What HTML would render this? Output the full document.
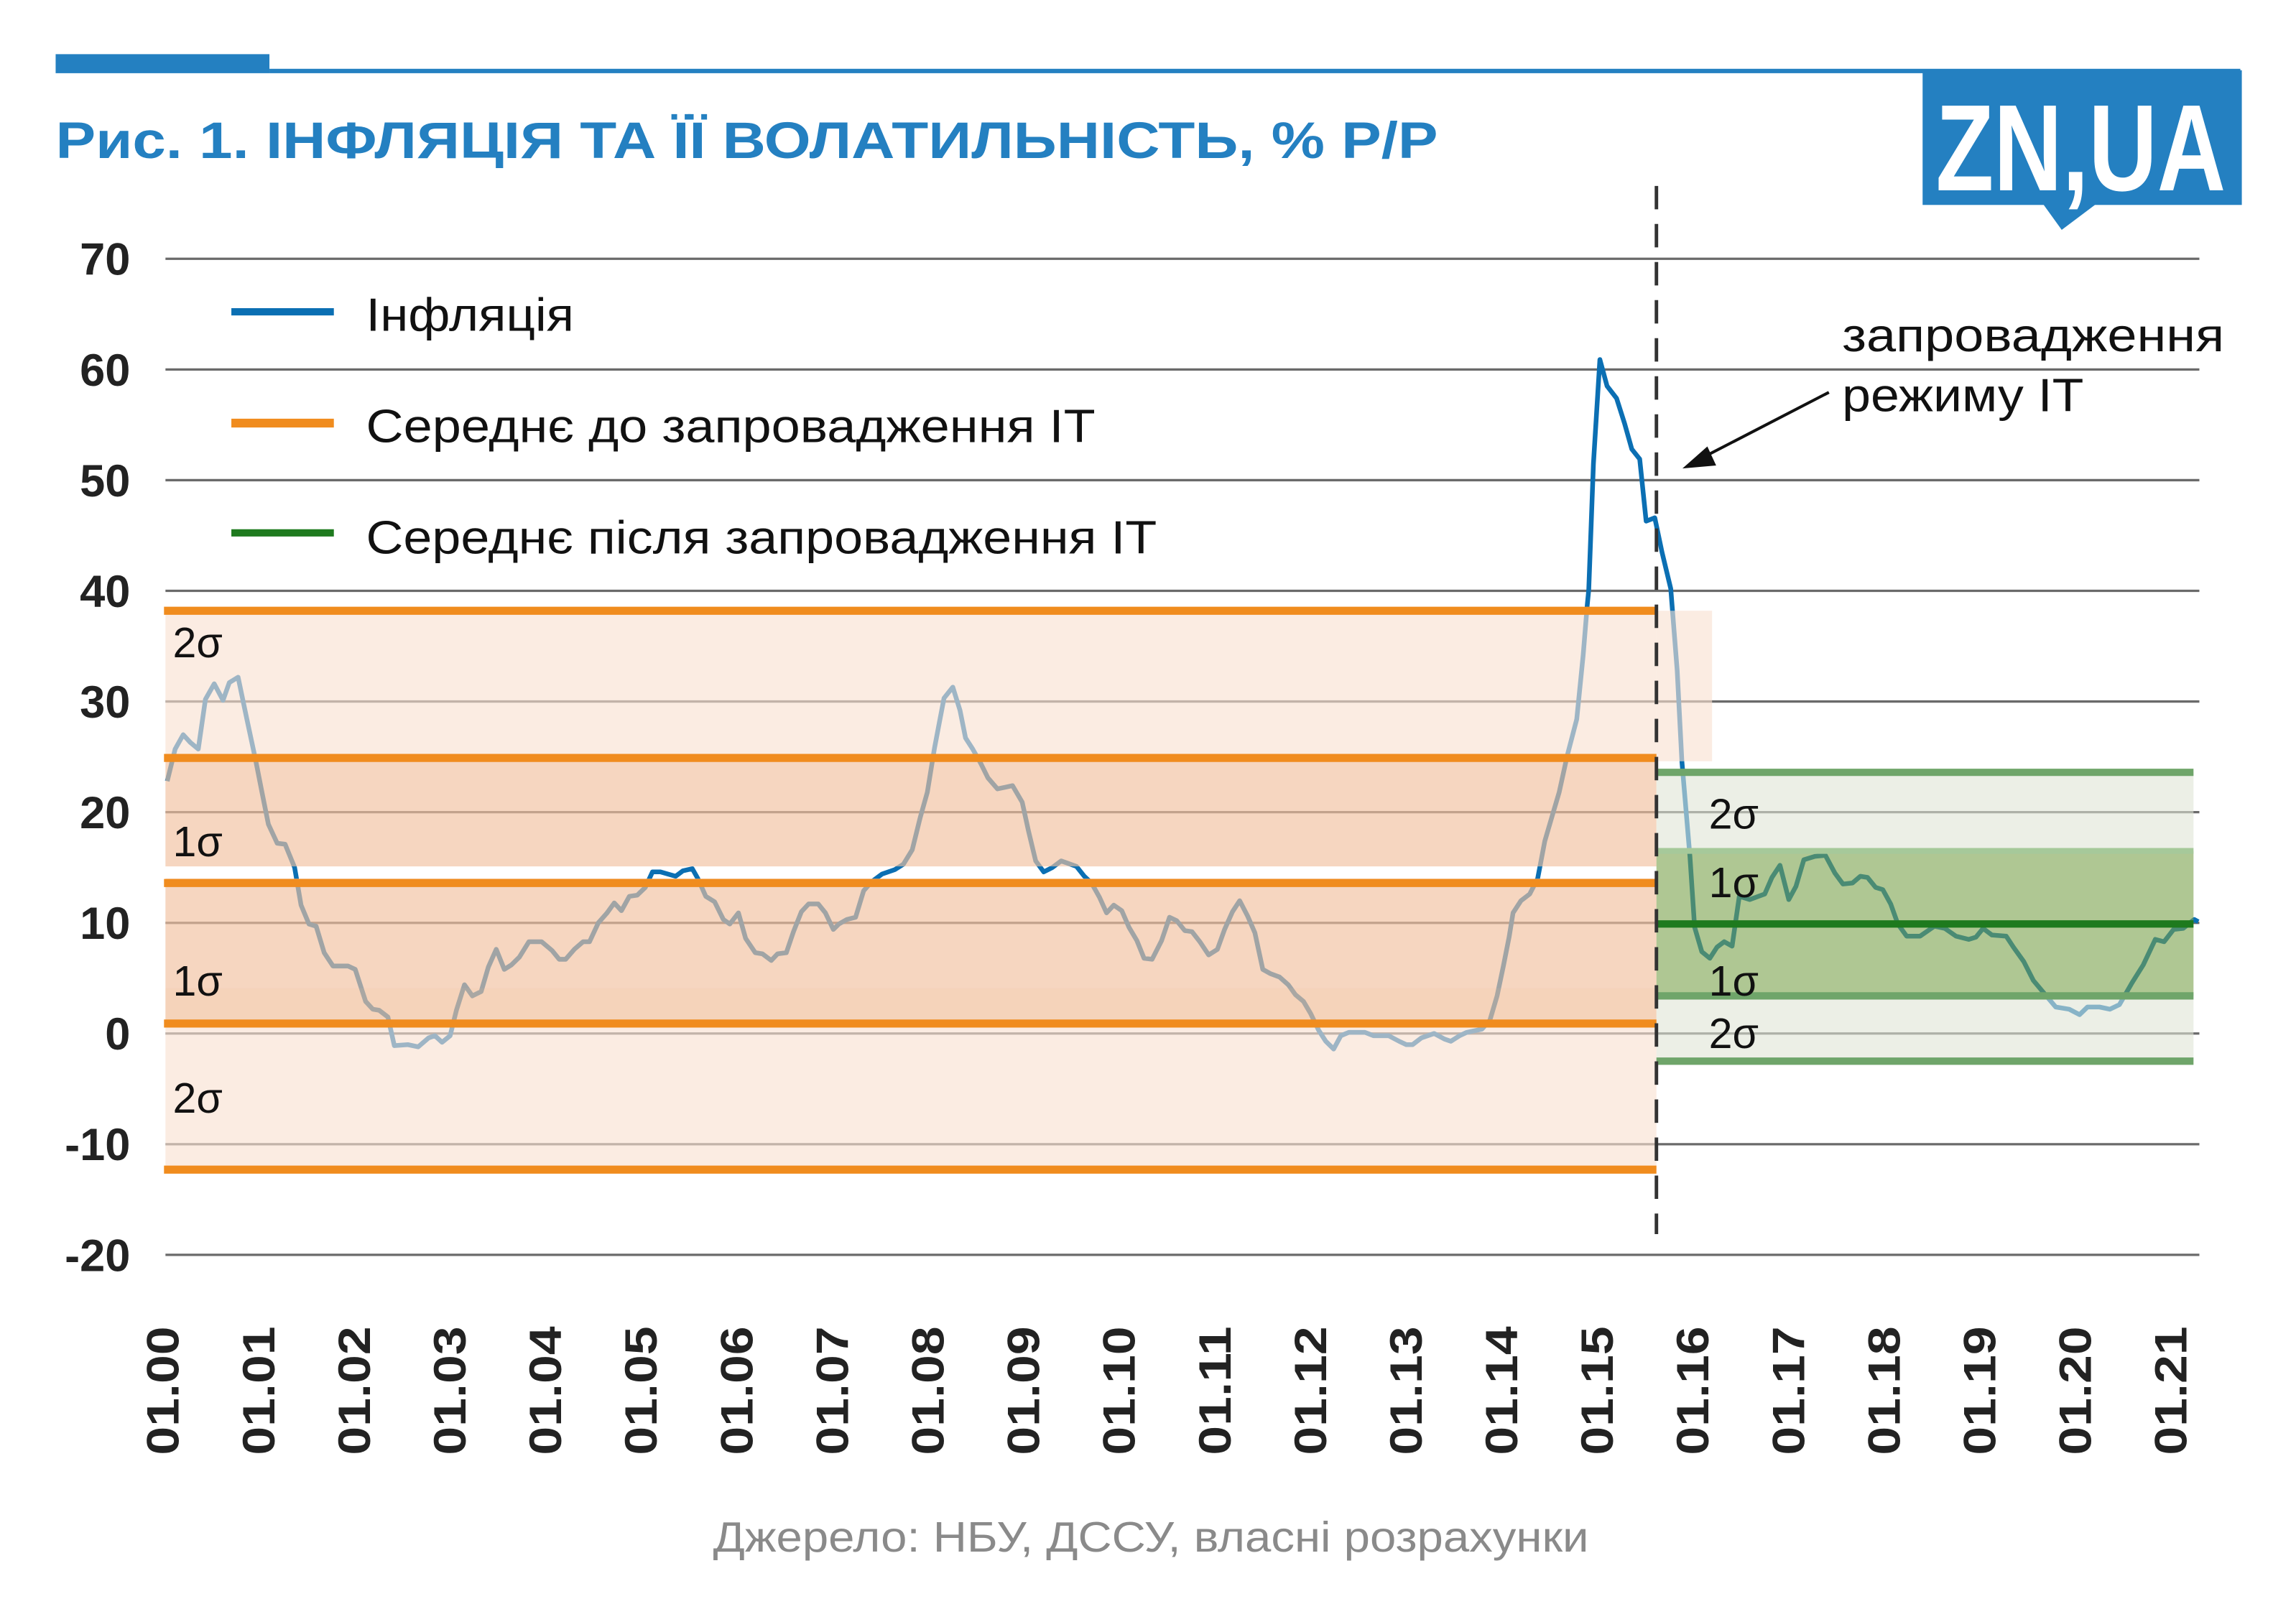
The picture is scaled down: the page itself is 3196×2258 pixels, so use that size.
<!DOCTYPE html>
<html><head><meta charset="utf-8">
<style>
html,body{margin:0;padding:0;background:#fff;}
svg{display:block;}
text{font-family:"Liberation Sans","DejaVu Sans",sans-serif;}
</style></head>
<body>
<svg id="chart" width="3196" height="2258" viewBox="0 0 1568 1108" preserveAspectRatio="none" xmlns="http://www.w3.org/2000/svg">
  <rect x="0" y="0" width="1568" height="1108" fill="#fff"/>
  <rect x="38" y="37" width="146" height="13" fill="#2480c1"/>
  <rect x="184" y="47" width="1346" height="3" fill="#2480c1"/>
  <text x="38" y="108" font-size="35" font-weight="bold" fill="#2480c1" textLength="944" lengthAdjust="spacingAndGlyphs">Рис. 1. ІНФЛЯЦІЯ ТА ЇЇ ВОЛАТИЛЬНІСТЬ, % Р/Р</text>
  <g>
    <rect x="1313" y="48" width="218" height="92" fill="#2480c1"/>
    <polygon points="1395,139 1432,139 1408,157" fill="#2480c1"/>
    <text x="1322" y="130" font-size="84" font-weight="bold" fill="#fff" font-family="'Liberation Sans Narrow','Liberation Sans',sans-serif" textLength="198" lengthAdjust="spacingAndGlyphs">ZN,UA</text>
  </g>
  <g id="grid"></g>
  <g id="series"></g>
  <g id="bands"></g>
  <g id="labels"></g>
  <g>
    <line x1="158" y1="213" x2="228" y2="213" stroke="#0b6fb3" stroke-width="5"/>
    <text x="250" y="226" font-size="32" fill="#111" textLength="142" lengthAdjust="spacingAndGlyphs">Інфляція</text>
    <line x1="158" y1="289" x2="228" y2="289" stroke="#f08c1e" stroke-width="6"/>
    <text x="250" y="302" font-size="32" fill="#111" textLength="498" lengthAdjust="spacingAndGlyphs">Середнє до запровадження ІТ</text>
    <line x1="158" y1="364" x2="228" y2="364" stroke="#1e7a1e" stroke-width="5"/>
    <text x="250" y="378" font-size="32" fill="#111" textLength="540" lengthAdjust="spacingAndGlyphs">Середнє після запровадження ІТ</text>
  </g>
  <g>
    <text x="1258" y="240" font-size="32" fill="#111" textLength="261" lengthAdjust="spacingAndGlyphs">запровадження</text>
    <text x="1258" y="281" font-size="32" fill="#111" textLength="165" lengthAdjust="spacingAndGlyphs">режиму ІТ</text>
    <line x1="1249" y1="268" x2="1160" y2="314" stroke="#111" stroke-width="2"/>
    <polygon points="1149,320 1166,305 1172,318" fill="#111"/>
  </g>
  <text x="487" y="1060" font-size="29" fill="#8a8a8a" textLength="598" lengthAdjust="spacingAndGlyphs">Джерело: НБУ, ДССУ, власні розрахунки</text>
</svg>
<script>
const yTicks = [70, 60, 50, 40, 30, 20, 10, 0, -10, -20];
const xTickLabels = ['01.00','01.01','01.02','01.03','01.04','01.05','01.06','01.07','01.08','01.09','01.10','01.11','01.12','01.13','01.14','01.15','01.16','01.17','01.18','01.19','01.20','01.21'];
const months = [0.4,1.4,2.4,3.3,4.3,5.2,6.3,7.4,8.2,9.3,10.4,11.5,12.3,13.1,14.2,15.2,16.4,17.2,18.2,19.1,20.1,21.2,23.1,24.0,25.3,26.2,27.0,28.1,28.9,30.6,31.9,33.2,34.0,34.9,35.9,36.7,37.7,38.7,39.8,40.7,41.7,42.7,43.6,44.6,45.8,47.4,48.7,49.6,50.4,51.5,52.6,53.4,54.5,55.6,56.5,57.4,58.4,59.4,60.4,61.3,62.3,64.2,65.1,66.3,67.0,68.0,69.1,70.2,71.0,72.1,73.0,74.2,75.1,76.2,77.0,78.1,79.0,80.0,80.9,82.1,83.0,84.0,84.7,85.7,86.8,87.8,88.8,90.1,91.7,92.8,93.9,94.9,95.8,96.7,97.3,97.9,99.0,99.9,100.6,101.5,102.5,103.4,104.6,106.5,107.7,108.5,109.4,110.4,111.5,112.6,114.5,115.5,116.4,117.4,118.3,119.2,120.2,121.1,122.1,123.0,124.0,125.2,126.2,127.1,128.1,129.0,130.0,131.1,132.2,133.1,134.1,135.0,136.0,136.9,137.9,138.9,140.0,141.1,142.0,143.0,143.9,144.9,145.8,146.8,147.7,148.7,150.7,151.8,153.7,155.0,155.9,156.7,157.8,159.4,160.7,161.5,162.6,163.5,165.4,166.4,167.3,168.1,168.8,169.3,170.3,171.4,172.4,173.3,174.2,175.1,176.1,177.3,178.1,178.6,178.8,179.4,180.2,181.1,182.3,183.3,184.2,185.2,186.0,187.1,188.0,189.1,189.9,190.5,191.5,192.1,193.0,194.0,194.9,195.8,196.8,197.7,199.0,200.9,201.8,202.8,203.9,204.8,205.8,207.2,208.5,209.7,210.7,211.9,212.9,213.8,214.8,215.7,216.7,217.6,218.7,220.4,222.2,223.5,224.9,226.5,227.4,228.3,229.4,231.2,232.1,233.4,234.6,236.1,237.4,239.1,240.4,241.4,242.9,244.2,245.4,247.0,248.4,249.9,251.0,252.2,253.4,254.8,255.3];
const inflation = [22.8,25.7,27.0,26.3,25.7,30.2,31.6,30.1,31.7,32.2,28.4,24.7,21.8,18.9,17.2,17.1,15.0,11.6,9.9,9.7,7.3,6.1,6.1,5.8,2.9,2.2,2.1,1.5,-1.1,-1.0,-1.2,-0.4,-0.2,-0.8,-0.2,2.1,4.4,3.4,3.8,6.0,7.6,5.8,6.2,6.9,8.3,8.3,7.5,6.7,6.7,7.6,8.3,8.3,10.0,10.9,11.8,11.1,12.4,12.5,13.2,14.6,14.6,14.2,14.7,14.9,14.0,12.4,11.9,10.3,9.9,10.9,8.6,7.3,7.2,6.6,7.2,7.3,9.2,11.0,11.7,11.7,10.9,9.4,9.9,10.3,10.5,12.9,13.7,14.4,14.8,15.3,16.6,19.5,21.8,25.8,28.1,30.3,31.3,29.2,26.7,25.7,24.4,23.1,22.1,22.4,20.9,18.3,15.6,14.6,15.0,15.6,15.1,14.2,13.6,12.3,10.9,11.6,11.1,9.6,8.4,6.8,6.7,8.4,10.5,10.2,9.3,9.2,8.3,7.1,7.6,9.4,11.0,12.0,10.6,9.1,5.8,5.4,5.1,4.4,3.5,2.9,1.8,0.3,-0.7,-1.4,-0.2,0.1,0.1,-0.2,-0.2,-0.7,-1.0,-1.0,-0.4,0.0,-0.5,-0.7,-0.2,0.1,0.4,1.2,3.4,6.1,8.7,10.9,12.0,12.6,14.0,17.4,19.6,21.8,25.1,28.4,34.2,38.6,40.1,51.5,60.9,58.5,57.4,55.1,52.8,51.9,46.3,46.6,43.5,40.2,32.8,24.6,16.0,9.6,7.4,6.8,7.8,8.3,7.9,12.4,12.1,12.6,14.1,15.2,12.1,13.3,15.7,16.0,16.1,14.5,13.5,13.6,14.2,14.1,13.2,13.0,11.7,9.9,8.8,8.8,9.7,9.5,8.8,8.5,8.7,9.5,8.9,8.8,7.8,6.5,4.8,3.5,2.4,2.2,1.7,2.4,2.4,2.2,2.6,4.6,6.2,8.5,8.3,9.4,9.5,10.3,10.1];
const preMean = 13.6, preSigma1 = [0.9, 24.9], preSigma2 = [-12.3, 38.2];
const postMean = 9.9, postSigma1 = [3.4, 16.5], postSigma2 = [-2.5, 23.6];
const itStartMonth = 187.3;

const NS = 'http://www.w3.org/2000/svg';
const X0 = 112, PER_YEAR = 65.3, Y0 = 706, PER_UNIT = 7.56;
function xs(m){ return X0 + m / 12 * PER_YEAR; }
function ys(v){ return Y0 - v * PER_UNIT; }
function mk(tag, attrs, parent){ const e = document.createElementNS(NS, tag); for (const k in attrs) e.setAttribute(k, attrs[k]); parent.appendChild(e); return e; }

const grid = document.getElementById('grid');
const labels = document.getElementById('labels');
yTicks.forEach(v => {
  const l = mk('line', {x1:113, x2:1502, y1:ys(v), y2:ys(v), stroke:'#6a6a6a', 'stroke-width':1.6}, grid);
  
  
  const t = mk('text', {x:89, y:ys(v)+11, 'font-size':31, 'font-weight':'bold', fill:'#222', 'text-anchor':'end'}, labels);
  t.textContent = v;
  
  
});
xTickLabels.forEach((s, i) => {
  const x = xs(i * 12) + 10;
  const t = mk('text', {x:0, y:0, 'font-size':31, 'font-weight':'bold', fill:'#222', 'text-anchor':'end', textLength:88, lengthAdjust:'spacingAndGlyphs', transform:'translate(' + x + ',906) rotate(-90)'}, labels);
  t.textContent = s;
  
  
});

const series = document.getElementById('series');
const pts = months.map((m, i) => xs(m).toFixed(1) + ',' + ys(inflation[i]).toFixed(1)).join(' ');
const pl = mk('polyline', {points:pts, fill:'none', stroke:'#0b6fb3', 'stroke-width':3.2, 'stroke-linejoin':'round'}, series);



const bands = document.getElementById('bands');
const xa = xs(0) + 1, xb = xs(itStartMonth), xe = 1498;
function rect(x1, x2, v1, v2, fill, name){
  const r = mk('rect', {x:x1, width:x2 - x1, y:ys(Math.max(v1, v2)), height:Math.abs(ys(v1) - ys(v2)), fill:fill}, bands);
  
  
}
const LIGHT = 'rgba(248,224,208,0.62)', DARK = 'rgba(241,192,158,0.65)';
rect(xa, xb, preSigma1[1], preSigma2[1], LIGHT, 'pre-band-2sigma-upper');
rect(xb, xb + 38, preSigma1[1] - 0.3, preSigma2[1], LIGHT, 'pre-band-2sigma-extension');
rect(xa, xb, preSigma2[0], preSigma1[0], LIGHT, 'pre-band-2sigma-lower');
rect(xa, xb, preMean + 1.5, preSigma1[1], DARK, 'pre-band-1sigma-upper');
rect(xa, xb, preSigma1[0], preMean + 0.4, DARK, 'pre-band-1sigma-lower');
rect(xa, xb, preSigma1[0], preSigma1[0] + 3.2, 'rgba(240,190,150,0.12)', 'pre-band-lower-shade');
const GL = 'rgba(223,228,213,0.59)', GD = 'rgba(119,160,72,0.59)';
rect(xb, xe, postSigma1[1], postSigma2[1], GL, 'post-band-2sigma-upper');
rect(xb, xe, postSigma2[0], postSigma1[0], GL, 'post-band-2sigma-lower');
rect(xb, xe, postSigma1[0], postSigma1[1], GD, 'post-band-1sigma');

function hline(x1, x2, v, color, w, name){
  const l = mk('line', {x1:x1, x2:x2, y1:ys(v), y2:ys(v), stroke:color, 'stroke-width':w}, bands);
  
  
}
[preSigma2[1], preSigma1[1], preMean, preSigma1[0], preSigma2[0]].forEach((v, i) => hline(xa - 1, xb, v, '#f08c1e', 5.5, 'pre-line-' + i));
hline(xb, xe, postSigma2[1], '#6fa56a', 5, 'post-line-2sigma-up');
hline(xb, xe, postSigma1[1], '#a6c99a', 4, 'post-line-1sigma-up');
hline(xb, xe, postMean, '#1e7a1e', 5, 'post-mean-line');
hline(xb, xe, postSigma1[0], '#6fa56a', 5, 'post-line-1sigma-down');
hline(xb, xe, postSigma2[0], '#6fa56a', 5, 'post-line-2sigma-down');

const dl = mk('line', {x1:xb, x2:xb, y1:127, y2:843, stroke:'#333', 'stroke-width':2.4, 'stroke-dasharray':'16,10'}, bands);



const sig = [['2σ',118,449],['1σ',118,585],['1σ',118,680],['2σ',118,760],['2σ',1167,566],['1σ',1167,613],['1σ',1167,680],['2σ',1167,716]];
sig.forEach(s => {
  const t = mk('text', {x:s[1], y:s[2], 'font-size':29, fill:'#111'}, labels);
  t.textContent = s[0];
  
  
});
</script>
</body></html>
